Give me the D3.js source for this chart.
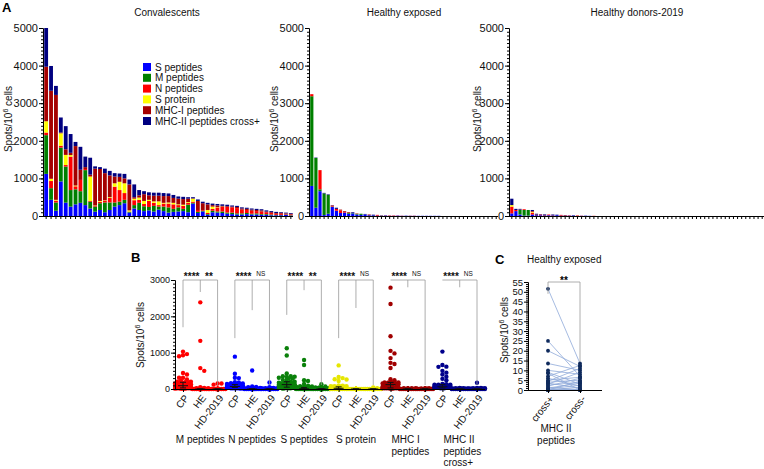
<!DOCTYPE html>
<html><head><meta charset="utf-8">
<script src="https://cdn.jsdelivr.net/npm/d3@7"></script>
<style>body{margin:0;background:#fff} svg{display:block;font-family:Arial,"Liberation Sans",sans-serif}</style>
</head><body><svg id="c" width="764" height="469"></svg>
<script>
// ---------- Panel A data (stacked bars, spots/10^6 cells) ----------
const seriesNames = ["S peptides","M peptides","N peptides","S protein","MHC-I peptides","MHC-II peptides cross+"];
// Convalescents (51 donors)
const conv_S   = [1120,430,140,920,355,250,310,350,290,200,115,160,100,160,250,290,340,90,200,160,130,150,120,170,130,90,110,120,130,100,330,80,120,30,100,90,80,60,50,40,40,50,40,40,30,30,20,20,20,30,10];
const conv_M   = [1030,310,220,900,960,440,400,310,930,180,135,180,260,200,110,90,90,20,90,190,130,90,150,80,120,140,80,110,60,200,20,30,20,20,40,30,40,30,40,30,30,30,20,30,20,20,20,10,10,10,10];
const conv_N   = [70,190,50,50,40,890,80,300,30,20,20,40,50,120,420,310,180,10,130,80,60,160,80,40,80,100,120,60,80,50,30,50,20,30,50,110,120,150,140,140,100,80,80,60,70,50,40,30,30,20,20];
const conv_Sp  = [300,60,20,330,270,40,20,0,0,650,10,20,10,20,90,220,260,30,40,60,80,30,40,100,20,30,40,20,30,20,80,0,0,80,60,10,10,0,0,0,0,0,0,0,0,0,0,0,0,0,0];
const conv_I   = [1450,2340,2790,20,150,60,1050,270,50,50,980,850,720,580,180,130,130,690,40,60,180,120,150,150,180,170,130,150,150,90,10,240,180,150,40,40,20,20,20,30,30,30,30,30,30,20,20,20,20,10,20];
const conv_II  = [1030,660,240,400,615,500,110,610,280,450,60,50,120,120,90,90,120,130,340,140,80,80,80,80,80,70,80,60,60,40,30,40,40,40,40,40,40,40,30,30,30,30,30,30,30,30,30,30,20,20,20];
// Healthy exposed (46 slots)
const he_S  = [800,220,660,25,60,240,140,80,90,60,70,40,30,40,20,15,10,10,10,5,5,10,5,5,5,5,5,5,5,5,5,5,0,0,0,0,0,0,0,0,0,0,0,0,0,0];
const he_M  = [2385,1325,50,575,500,10,0,0,0,20,10,20,30,0,0,0,0,5,0,0,0,0,0,0,0,0,0,0,0,0,0,0,0,0,0,0,0,0,0,0,0,0,0,0,0,0];
const he_N  = [55,0,510,0,0,30,50,70,20,0,0,10,0,0,0,0,20,5,5,10,10,5,5,0,5,5,0,0,0,0,0,0,0,0,0,0,0,0,0,0,0,0,0,0,0,0];
const he_Sp = [0,0,0,0,0,0,0,0,0,0,0,0,0,0,0,0,0,0,0,0,0,0,0,0,0,0,0,0,0,0,0,0,0,0,0,0,0,0,0,0,0,0,0,0,0,0];
const he_I  = [0,0,0,0,0,0,0,20,20,20,0,0,0,0,20,0,0,0,0,0,0,0,0,0,0,0,0,0,0,0,0,0,0,0,0,0,0,0,0,0,0,0,0,0,0,0];
const he_II = [0,10,0,15,15,10,30,0,0,0,20,0,0,15,0,20,0,0,5,0,0,0,0,5,0,0,0,0,0,0,0,0,0,0,0,0,0,0,0,0,0,0,0,0,0,0];
// Healthy donors-2019 (62 slots)
const hd_S  = [70,130,40,10,10,40,20,20,15,20,15,20,10,10,10,10,0,5,5,5,0,0,0,0,0,0,0,0,0,0,0,0,0,0,0,0,0,0,0,0,0,0,0,0,0,0,0,0,0,0,0,0,0,0,0,0,0,0,0,0,0,0];
const hd_M  = [0,0,120,150,150,0,0,0,0,0,0,0,0,0,0,0,0,0,0,0,0,0,0,0,0,0,0,0,0,0,0,0,0,0,0,0,0,0,0,0,0,0,0,0,0,0,0,0,0,0,0,0,0,0,0,0,0,0,0,0,0,0];
const hd_N  = [180,30,10,20,0,50,0,20,0,20,0,0,20,0,10,0,10,5,0,0,5,0,0,0,0,0,0,0,0,0,0,0,0,0,0,0,0,0,0,0,0,0,0,0,0,0,0,0,0,0,0,0,0,0,0,0,0,0,0,0,0,0];
const hd_Sp = [40,0,0,0,0,20,0,0,0,0,0,0,0,0,0,0,0,0,0,0,0,0,0,0,0,0,0,0,0,0,0,0,0,0,0,0,0,0,0,0,0,0,0,0,0,0,0,0,0,0,0,0,0,0,0,0,0,0,0,0,0,0];
const hd_I  = [0,0,0,0,0,20,20,0,15,0,10,0,0,15,0,0,5,0,0,0,0,0,0,0,0,0,0,0,0,0,0,0,0,0,0,0,0,0,0,0,0,0,0,0,0,0,0,0,0,0,0,0,0,0,0,0,0,0,0,0,0,0];
const hd_II = [170,30,20,0,0,30,20,10,15,0,15,15,0,0,0,10,0,0,5,0,0,0,0,0,0,0,0,0,0,0,0,0,0,0,0,0,0,0,0,0,0,0,0,0,0,0,0,0,0,0,0,0,0,0,0,0,0,0,0,0,0,0];
const yTicksA = [0,1000,2000,3000,4000,5000];

// ---------- Panel B ----------
const groupsB = ["M peptides","N peptides","S peptides","S protein","MHC I|peptides","MHC II|peptides|cross+"];
const cohorts = ["CP","HE","HD-2019"];
const yTicksB = [0,1000,2000,3000];
const sigCPvsHE = ["****","****","****","****","****","****"];
const sigHEvsHD = ["**","NS","**","NS","NS","NS"];
const bracketCPend = [1700,1400,2040,1400,3000,3000];
const bracketHEend = [2670,2170,2720,2230,2800,2800];
const bracketHDend = [110,110,110,110,110,110];

// ---------- Panel C (paired, healthy exposed) ----------
const cCats = ["cross+","cross-"];
const cPlus  = [51.5,25,20,13.5,10,9,8.5,7,6,5,4.5,4,3.5,3,2.5,2,1.5,1,0.5,0,0,0,0,0];
const cMinus = [13.5,7,12,10,8,3,0,12.5,2,6.5,11,5,1,9,4,6,0,3.5,2.5,0,1.5,4.5,0,0.5];
const yTicksC = [0,5,10,15,20,25,30,35,40,45,50,55];

// ---------- styles ----------
const colA = ["#0000ff","#008000","#ff0000","#ffff00","#a50000","#000080"];
const colB = ["#ff0000","#0000ff","#0a800a","#e6e600","#a00000","#00008c"];

const svg = d3.select("#c");
const F = "Arial, 'Liberation Sans', sans-serif";

function yLabel(g, x, y){
  const t = g.append("text").attr("transform",`translate(${x},${y}) rotate(-90)`)
    .attr("text-anchor","middle").attr("font-size",10).attr("fill","#111");
  t.append("tspan").text("Spots/10");
  t.append("tspan").attr("dy",-4).attr("font-size",7).text("6");
  t.append("tspan").attr("dy",4).text(" cells");
}
function styleAxis(g){
  g.selectAll("path.domain").attr("stroke","#000").attr("stroke-width",1);
  g.selectAll(".tick line").attr("stroke","#000");
  g.selectAll("text").attr("fill","#111").attr("font-family",F);
}

// ---------- Panel A ----------
const compA = [
  {arrs:[conv_S,conv_M,conv_N,conv_Sp,conv_I,conv_II], x0:43, x1:293, title:"Convalescents", tx:167, lx:12},
  {arrs:[he_S,he_M,he_N,he_Sp,he_I,he_II], x0:309, x1:498, title:"Healthy exposed", tx:404, lx:278},
  {arrs:[hd_S,hd_M,hd_N,hd_Sp,hd_I,hd_II], x0:509, x1:764, title:"Healthy donors-2019", tx:637, lx:481}
];
const yA = d3.scaleLinear().domain([0,5000]).range([216,28]);
compA.forEach(c=>{
  const n = c.arrs[0].length;
  const rows = d3.range(n).map(i=>{const o={}; seriesNames.forEach((k,j)=>o[k]=c.arrs[j][i]); return o;});
  const stack = d3.stack().keys(seriesNames)(rows);
  const x = d3.scaleBand().domain(d3.range(n)).range([c.x0+1,c.x1]).paddingInner(0.22).paddingOuter(0.05);
  const g = svg.append("g");
  stack.forEach((s,j)=>{
    g.append("g").attr("fill",colA[j]).selectAll("rect").data(s).join("rect")
      .attr("x",(d,i)=>x(i)).attr("width",x.bandwidth())
      .attr("y",d=>yA(d[1])).attr("height",d=>Math.max(0,yA(d[0])-yA(d[1])));
  });
  const ym = g.append("g").attr("transform",`translate(${c.x0},0)`)
    .call(d3.axisLeft(yA).tickValues(d3.range(0,5001,100)).tickSize(2).tickFormat("").tickSizeOuter(0));
  const ya = g.append("g").attr("transform",`translate(${c.x0},0)`)
    .call(d3.axisLeft(yA).tickValues(yTicksA).tickSize(4).tickPadding(1).tickSizeOuter(0).tickFormat(d3.format("d")));
  ya.selectAll("text").attr("font-size",11);
  styleAxis(ym); styleAxis(ya);
  const xa = g.append("g").attr("transform",`translate(0,216)`)
    .call(d3.axisBottom(x).tickSize(3).tickFormat("").tickSizeOuter(0));
  xa.select("path.domain").attr("d",`M${c.x0},0.5H${c.x1}`);
  styleAxis(xa);
  g.append("text").attr("x",c.tx).attr("y",16).attr("text-anchor","middle").attr("font-size",10).attr("fill","#111").text(c.title);
  yLabel(g, c.lx, 119);
});
// legend
const leg = svg.append("g");
seriesNames.forEach((k,j)=>{
  const cy = 67 + j*10.8;
  leg.append("rect").attr("x",143).attr("y",cy-4).attr("width",8).attr("height",8).attr("fill",colA[j]);
  leg.append("text").attr("x",155).attr("y",cy+3.6).attr("font-size",10).attr("fill","#111").text(k);
});
svg.append("text").attr("x",2).attr("y",12).attr("font-size",13).attr("font-weight","bold").text("A");

// ---------- Panel B ----------
const convByB = [conv_M, conv_N, conv_S, conv_Sp, conv_I, conv_II];
const heByB   = [he_M, he_N, he_S, he_Sp, he_I, he_II];
const hdByB   = [hd_M, hd_N, hd_S, hd_Sp, hd_I, hd_II];
const colKeys = [];
groupsB.forEach((gname,gi)=>cohorts.forEach((c,ci)=>colKeys.push(gi+"_"+ci)));
const xB = d3.scalePoint().domain(colKeys).range([183,477]);
const yB = d3.scaleLinear().domain([0,3000]).range([389,280]);
const gB = svg.append("g");

function swarm(vals, cx, y, r, maxW){
  const pts = vals.map(v=>({v, y:y(v)})).sort((a,b)=>a.y-b.y);
  const placed=[]; const step=r*0.9; const K=Math.floor(maxW/step)*2;
  pts.forEach(p=>{
    let best=cx, bestD=-1;
    for(let k=0;k<=K;k++){
      const off=(k%2?1:-1)*Math.ceil(k/2)*step; const xx=cx+off;
      let md=Infinity;
      placed.forEach(q=>{const d=Math.hypot(q.x-xx,q.y-p.y); if(d<md) md=d;});
      if(md>=2*r*0.8){best=xx;bestD=md;break;}
      if(md>bestD){bestD=md;best=xx;}
    }
    p.x=best; placed.push(p);
  });
  return placed;
}

groupsB.forEach((gname,gi)=>{
  [convByB[gi], heByB[gi], hdByB[gi]].forEach((vals,ci)=>{
    const cx = xB(gi+"_"+ci);
    const pts = swarm(vals, cx, yB, 2.2, 8);
    gB.append("g").attr("fill",colB[gi]).selectAll("circle").data(pts).join("circle")
      .attr("cx",d=>d.x).attr("cy",d=>d.y).attr("r",2.2);
    const s = vals.slice().sort(d3.ascending);
    const q1=d3.quantile(s,0.25), q2=d3.quantile(s,0.5), q3=d3.quantile(s,0.75);
    const eb = gB.append("g").attr("stroke","#111").attr("stroke-width",1);
    eb.append("line").attr("x1",cx).attr("x2",cx).attr("y1",yB(q1)).attr("y2",yB(q3));
    eb.append("line").attr("x1",cx-3).attr("x2",cx+3).attr("y1",yB(q1)).attr("y2",yB(q1));
    eb.append("line").attr("x1",cx-3).attr("x2",cx+3).attr("y1",yB(q3)).attr("y2",yB(q3));
    eb.append("line").attr("x1",cx-5).attr("x2",cx+5).attr("y1",yB(q2)).attr("y2",yB(q2));
  });
  // brackets
  const xa=xB(gi+"_0"), xb=xB(gi+"_1"), xc=xB(gi+"_2");
  const top=yB(3000);
  const br = gB.append("g").attr("stroke","#999").attr("stroke-width",0.8).attr("fill","none");
  br.append("path").attr("d",`M${xa},${yB(bracketCPend[gi])}V${top}H${xc}V${yB(bracketHDend[gi])}M${xb},${top}V${yB(bracketHEend[gi])}`);
  gB.append("text").attr("x",(xa+xb)/2).attr("y",280).attr("text-anchor","middle").attr("font-size",10).attr("font-weight","bold").attr("fill","#111").text(sigCPvsHE[gi]);
  const sig = sigHEvsHD[gi];
  gB.append("text").attr("x",(xb+xc)/2).attr("y",sig==="NS"?276:280).attr("text-anchor","middle")
    .attr("font-size",sig==="NS"?6.5:10).attr("font-weight",sig==="NS"?"normal":"bold").attr("fill","#111").text(sig);
  // group label
  const lines = gname.split("|");
  const gx = (xa+xc)/2;
  lines.forEach((ln,li)=>{
    gB.append("text").attr("x", lines.length>1 ? xa+1 : gx).attr("y",443+li*11.5)
      .attr("text-anchor", lines.length>1 ? "start":"middle").attr("font-size",10).attr("fill","#111").text(ln);
  });
});
// axes B
const ymB = gB.append("g").attr("transform","translate(175,0)")
  .call(d3.axisLeft(yB).tickValues(d3.range(0,3001,100)).tickSize(2).tickFormat("").tickSizeOuter(0));
const yaB = gB.append("g").attr("transform","translate(175,0)")
  .call(d3.axisLeft(yB).tickValues(yTicksB).tickSize(4).tickPadding(1).tickSizeOuter(0).tickFormat(d3.format("d")));
yaB.selectAll("text").attr("font-size",9);
styleAxis(ymB); styleAxis(yaB);
const xaB = gB.append("g").attr("transform","translate(0,389)")
  .call(d3.axisBottom(xB).tickSize(3).tickSizeOuter(0).tickFormat(k=>cohorts[+k.split("_")[1]]));
xaB.select("path.domain").attr("d","M175,0.5H485");
xaB.selectAll(".tick text").attr("font-size",10).attr("text-anchor","end")
  .attr("x",0).attr("y",0).attr("dy","0.35em").attr("transform","translate(3,7) rotate(-52)");
styleAxis(xaB);
yLabel(gB, 144, 335);
svg.append("text").attr("x",131).attr("y",262).attr("font-size",13).attr("font-weight","bold").text("B");

// ---------- Panel C ----------
const gC = svg.append("g");
const xC = d3.scalePoint().domain(cCats).range([548,580]);
const yC = d3.scaleLinear().domain([0,55]).range([390,282]);
gC.append("g").attr("stroke","#8fa9d9").attr("stroke-width",0.8).selectAll("line").data(cPlus.map((v,i)=>[v,cMinus[i]])).join("line")
  .attr("x1",xC("cross+")).attr("x2",xC("cross-")).attr("y1",d=>yC(d[0])).attr("y2",d=>yC(d[1]));
gC.append("g").attr("fill","#0f2a5c").selectAll("circle").data(cPlus).join("circle")
  .attr("cx",xC("cross+")).attr("cy",d=>yC(d)).attr("r",1.9);
gC.append("g").attr("fill","#0f2a5c").selectAll("circle").data(cMinus).join("circle")
  .attr("cx",xC("cross-")).attr("cy",d=>yC(d)).attr("r",1.9);
gC.append("path").attr("fill","none").attr("stroke","#999").attr("stroke-width",0.8)
  .attr("d",`M${xC("cross+")},${yC(49)}V${yC(55)}H${xC("cross-")}V${yC(14.5)}`);
gC.append("text").attr("x",564).attr("y",284).attr("text-anchor","middle").attr("font-size",10).attr("font-weight","bold").text("**");
const ymC = gC.append("g").attr("transform","translate(528,0)")
  .call(d3.axisLeft(yC).tickValues(d3.range(0,56,1)).tickSize(2).tickFormat("").tickSizeOuter(0));
const yaC = gC.append("g").attr("transform","translate(528,0)")
  .call(d3.axisLeft(yC).tickValues(yTicksC).tickSize(4).tickPadding(1).tickSizeOuter(0));
yaC.selectAll("text").attr("font-size",9.5);
styleAxis(ymC); styleAxis(yaC);
const xaC = gC.append("g").attr("transform","translate(0,390)")
  .call(d3.axisBottom(xC).tickSize(3).tickSizeOuter(0));
xaC.select("path.domain").attr("d","M528,0.5H602");
xaC.selectAll(".tick text").attr("font-size",10).attr("text-anchor","end")
  .attr("x",0).attr("y",0).attr("dy","0.35em").attr("transform","translate(3,7) rotate(-52)");
styleAxis(xaC);
yLabel(gC, 508, 330);
gC.append("text").attr("x",556).attr("y",432).attr("text-anchor","middle").attr("font-size",10).attr("fill","#111").text("MHC II");
gC.append("text").attr("x",556).attr("y",444).attr("text-anchor","middle").attr("font-size",10).attr("fill","#111").text("peptides");
svg.append("text").attr("x",495).attr("y",264).attr("font-size",13).attr("font-weight","bold").text("C");
svg.append("text").attr("x",527).attr("y",263).attr("font-size",10).attr("fill","#111").text("Healthy exposed");
</script></body></html>
